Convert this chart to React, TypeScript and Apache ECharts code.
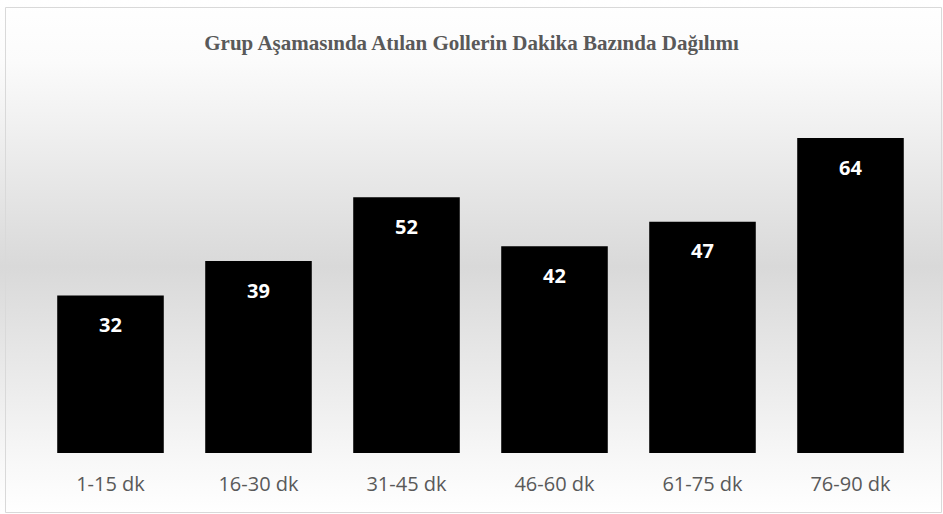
import React, { useEffect, useRef } from "react";
import * as echarts from "echarts";

const titleText = "Grup Aşamasında Atılan Gollerin Dakika Bazında Dağılımı";
const categories = ["1-15 dk", "16-30 dk", "31-45 dk", "46-60 dk", "61-75 dk", "76-90 dk"];
const goals = [32, 39, 52, 42, 47, 64];

export default function App() {
  const ref = useRef<HTMLDivElement>(null);
  useEffect(() => {
    document.body.style.margin = "0";
    const chart = echarts.init(ref.current!, null, { renderer: "svg" });
    chart.setOption({
      animation: false,
      backgroundColor: {
        type: "linear",
        x: 0, y: 0, x2: 0, y2: 1,
        colorStops: [
          { offset: 0, color: "#ffffff" },
          { offset: 0.12, color: "#fbfbfb" },
          { offset: 0.52, color: "#d9d9d9" },
          { offset: 0.9, color: "#f8f8f8" },
          { offset: 1, color: "#ffffff" },
        ],
      },
      title: {
        text: titleText,
        left: "center",
        top: 27,
        textStyle: {
          fontFamily: "Liberation Serif",
          fontWeight: "bold",
          fontSize: 21,
          color: "#595959",
        },
      },
      graphic: [
        {
          type: "rect",
          shape: { x: 5.5, y: 7.5, width: 936, height: 505 },
          style: { fill: "none", stroke: "#d9d9d9", lineWidth: 1 },
          silent: true,
        },
      ],
      grid: { left: 36.5, right: 18.5, top: 108.6, bottom: 61, containLabel: false },
      xAxis: {
        type: "category",
        data: categories,
        axisLine: { show: false },
        axisTick: { show: false },
        axisLabel: {
          color: "#595959",
          fontFamily: "Open Sans",
          fontSize: 20,
          margin: 20,
        },
      },
      yAxis: {
        type: "value",
        min: 0,
        max: 70,
        show: false,
        splitLine: { show: false },
      },
      series: [
        {
          type: "bar",
          data: goals,
          barWidth: "72%",
          itemStyle: { color: "#000000" },
          label: {
            show: true,
            position: "insideTop",
            distance: 19,
            color: "#ffffff",
            fontFamily: "Open Sans",
            fontWeight: "bold",
            fontSize: 20,
          },
        },
      ],
    });
    return () => chart.dispose();
  }, []);
  return <div ref={ref} style={{ position: "absolute", left: 0, top: 0, width: 943, height: 514 }} />;
}
